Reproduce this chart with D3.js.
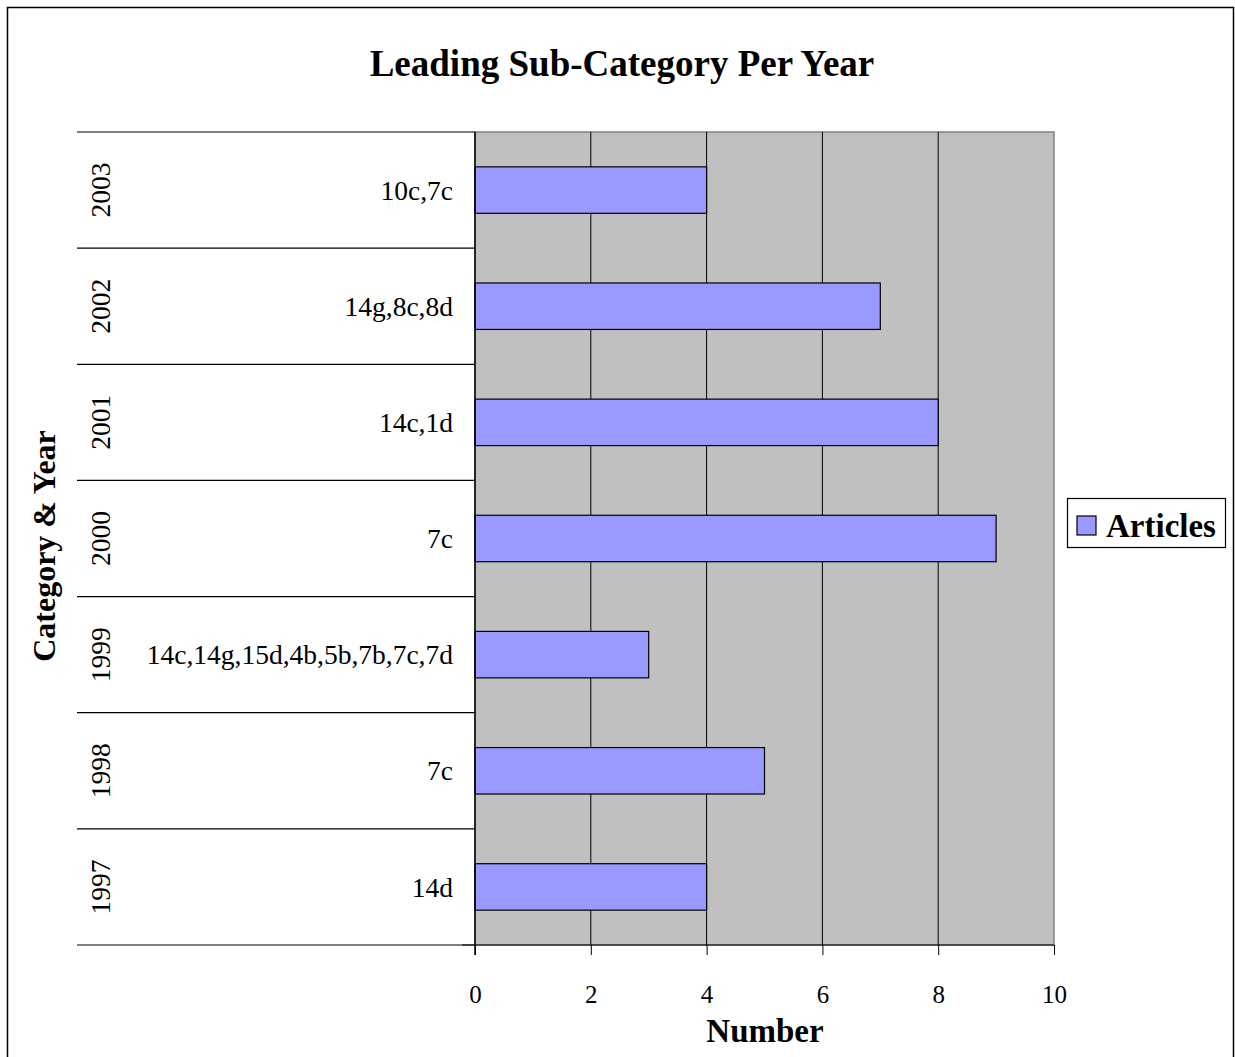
<!DOCTYPE html>
<html>
<head>
<meta charset="utf-8">
<script src="https://cdn.jsdelivr.net/npm/d3@7"></script>
<style>
  body { margin: 0; background: #fff; }
  text { font-family: "Liberation Serif", "Times New Roman", serif; }
</style>
</head>
<body>
<div class="chart"></div>
<script>
// data, top to bottom as in the picture
const years = ["2003", "2002", "2001", "2000", "1999", "1998", "1997"];
const subCats = ["10c,7c", "14g,8c,8d", "14c,1d", "7c", "14c,14g,15d,4b,5b,7b,7c,7d", "7c", "14d"];
const articles = [4, 7, 8, 9, 3, 5, 4];
const xTicks = [0, 2, 4, 6, 8, 10];

const W = 1235, H = 1057;
const plot = {left: 475, right: 1054, top: 132, bottom: 945};

const svg = d3.select('.chart').append('svg')
    .attr("width", W)
    .attr("height", H);

// outer frame
svg.append("rect")
    .attr("x", 7.5).attr("y", 7.5)
    .attr("width", 1226).attr("height", 1070)
    .attr("fill", "white")
    .attr("stroke", "black")
    .attr("stroke-width", 1.5);

const xScale = d3.scaleLinear()
    .domain([0, 10])
    .range([plot.left, plot.right]);

const yScale = d3.scaleBand()
    .domain(years)
    .range([plot.top, plot.bottom])
    .paddingInner(0.6)
    .paddingOuter(0.3);

// band edges for category separator lines
const step = (plot.bottom - plot.top) / years.length;

// plot area
svg.append("rect")
    .attr("x", plot.left).attr("y", plot.top)
    .attr("width", plot.right - plot.left)
    .attr("height", plot.bottom - plot.top)
    .attr("fill", "#c0c0c0")
    .attr("stroke", "#808080")
    .attr("stroke-width", 1.5);

// gridlines
svg.selectAll(".grid")
    .data(xTicks.filter(d => d > 0 && d < 10))
    .enter()
    .append("line")
    .attr("x1", d => xScale(d)).attr("x2", d => xScale(d))
    .attr("y1", plot.top).attr("y2", plot.bottom)
    .attr("stroke", "black")
    .attr("stroke-width", 1);

// bars
svg.selectAll(".bar")
    .data(articles)
    .enter()
    .append("rect")
    .attr("x", xScale(0))
    .attr("y", (d, i) => yScale(years[i]))
    .attr("width", d => xScale(d) - xScale(0))
    .attr("height", yScale.bandwidth())
    .attr("fill", "#9999ff")
    .attr("stroke", "black")
    .attr("stroke-width", 1.2);

// x axis
const xAxis = d3.axisBottom(xScale)
    .tickValues(xTicks)
    .tickSize(10)
    .tickPadding(30);

const gx = svg.append("g")
    .attr("transform", `translate(0, ${plot.bottom})`)
    .call(xAxis);
gx.select(".domain").remove();
gx.selectAll("line").attr("stroke", "black");
gx.selectAll("text")
    .attr("font-size", "25px")
    .attr("font-family", "Liberation Serif")
    .attr("fill", "black");

svg.append("line")
    .attr("x1", 462).attr("x2", plot.right)
    .attr("y1", plot.bottom).attr("y2", plot.bottom)
    .attr("stroke", "black").attr("stroke-width", 1.2);

// left axis line
svg.append("line")
    .attr("x1", plot.left).attr("x2", plot.left)
    .attr("y1", plot.top).attr("y2", plot.bottom + 10)
    .attr("stroke", "black").attr("stroke-width", 1.5);

// category separators
svg.selectAll(".sep")
    .data(d3.range(years.length + 1))
    .enter()
    .append("line")
    .attr("x1", 77).attr("x2", plot.left)
    .attr("y1", i => plot.top + i * step)
    .attr("y2", i => plot.top + i * step)
    .attr("stroke", "black")
    .attr("stroke-width", 1.2);

// sub-category labels
svg.selectAll(".cat")
    .data(subCats)
    .enter()
    .append("text")
    .attr("x", 453)
    .attr("y", (d, i) => yScale(years[i]) + yScale.bandwidth() / 2)
    .attr("dy", "0.35em")
    .attr("text-anchor", "end")
    .attr("font-size", "27.5px")
    .text(d => d);

// year labels
svg.selectAll(".year")
    .data(years)
    .enter()
    .append("text")
    .attr("transform", (d, i) => `translate(100, ${plot.top + (i + 0.5) * step}) rotate(-90)`)
    .attr("dy", "0.35em")
    .attr("text-anchor", "middle")
    .attr("font-size", "27.5px")
    .text(d => d);

// titles
svg.append("text")
    .attr("x", 622).attr("y", 76)
    .attr("text-anchor", "middle")
    .attr("font-size", "37px")
    .attr("font-weight", "bold")
    .text("Leading Sub-Category Per Year");

svg.append("text")
    .attr("x", 765).attr("y", 1042)
    .attr("text-anchor", "middle")
    .attr("font-size", "33px")
    .attr("font-weight", "bold")
    .text("Number");

svg.append("text")
    .attr("transform", "translate(55, 546) rotate(-90)")
    .attr("text-anchor", "middle")
    .attr("font-size", "32px")
    .attr("font-weight", "bold")
    .text("Category & Year");

// legend
const legend = svg.append("g");
legend.append("rect")
    .attr("x", 1067.5).attr("y", 498.5)
    .attr("width", 158).attr("height", 49)
    .attr("fill", "white")
    .attr("stroke", "black")
    .attr("stroke-width", 1.2);
legend.append("rect")
    .attr("x", 1077).attr("y", 516)
    .attr("width", 19).attr("height", 19)
    .attr("fill", "#9999ff")
    .attr("stroke", "black")
    .attr("stroke-width", 1.2);
legend.append("text")
    .attr("x", 1106).attr("y", 537)
    .attr("font-size", "33px")
    .attr("font-weight", "bold")
    .text("Articles");
</script>
</body>
</html>
